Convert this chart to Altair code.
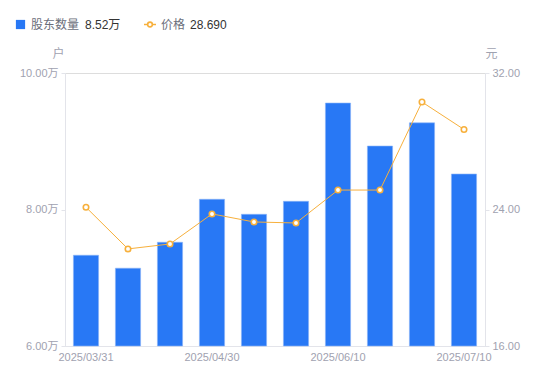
import altair as alt
import pandas as pd

dates = ["2025/03/31", "2025/04/10", "2025/04/18", "2025/04/30", "2025/05/20",
         "2025/05/30", "2025/06/10", "2025/06/20", "2025/06/30", "2025/07/10"]
holders = [7.33, 7.14, 7.52, 8.15, 7.93, 8.12, 9.56, 8.93, 9.27, 8.52]
price = [24.13, 21.69, 21.98, 23.74, 23.27, 23.21, 25.14, 25.14, 30.30, 28.69]
shown_dates = [dates[0], dates[3], dates[6], dates[9]]
left_ticks = [6, 8, 10]
right_ticks = [16, 24, 32]

FONT = "Liberation Sans, Noto Sans CJK SC, sans-serif"
BLUE = "#2878F5"
ORANGE = "#F7B03C"
GREY = "#9fa2b0"
AXIS_LINE = "#e3e4ea"

df = pd.DataFrame({"date": dates, "holders": holders, "price": price})
base = alt.Chart(df)

x = alt.X("date:N", sort=None,
          scale=alt.Scale(paddingInner=0.4, paddingOuter=0.2),
          axis=alt.Axis(values=shown_dates, labelAngle=0, title=None, ticks=False,
                        domainColor=AXIS_LINE, labelColor=GREY, labelFontSize=11,
                        labelFont=FONT, labelPadding=5, labelOverlap=False))

bars = base.mark_bar(color=BLUE, stroke="#8db5f7", strokeWidth=0.6).encode(
    x=x,
    y=alt.Y("holders:Q",
            scale=alt.Scale(domain=[6, 10], nice=False, zero=False),
            axis=alt.Axis(values=left_ticks, labelExpr="format(datum.value, '.2f') + '万'",
                          title="户", titleAngle=0, titleX=-7, titleY=-13, titleAlign="center",
                          titleColor=GREY, titleFontSize=12, titleFontWeight="normal", titleFont=FONT,
                          domainColor=AXIS_LINE, tickColor=AXIS_LINE, tickSize=4,
                          labelColor=GREY, labelFontSize=11, labelFont=FONT, labelPadding=3,
                          grid=False)),
    y2=alt.datum(6),
)

yp = alt.Y("price:Q",
           scale=alt.Scale(domain=[16, 32], nice=False, zero=False),
           axis=alt.Axis(orient="right", values=right_ticks, format=".2f",
                         title="元", titleAngle=0, titleX=6, titleY=-13, titleAlign="center",
                         titleColor=GREY, titleFontSize=12, titleFontWeight="normal", titleFont=FONT,
                         domainColor=AXIS_LINE, tickColor=AXIS_LINE, tickSize=4,
                         labelColor=GREY, labelFontSize=11, labelFont=FONT, labelPadding=3,
                         grid=False))

line = base.mark_line(color=ORANGE, strokeWidth=1).encode(x=x, y=yp)
pts = base.mark_point(filled=True, fill="white", stroke=ORANGE, strokeWidth=1.6,
                      size=30, opacity=1).encode(x=x, y=yp)

price_layer = alt.layer(line, pts)

# Legend
leg_df = pd.DataFrame({"k": [0]})
leg = alt.Chart(leg_df)
sq = leg.mark_square(color=BLUE, size=85, opacity=1).encode(x=alt.value(-44.5), y=alt.value(-48.5))
t1 = leg.mark_text(align="left", baseline="middle", font=FONT, fontSize=12, color="#6b6e7a").encode(
    x=alt.value(-34), y=alt.value(-48.5), text=alt.value("股东数量"))
t2 = leg.mark_text(align="left", baseline="middle", font=FONT, fontSize=12, color="#333333").encode(
    x=alt.value(20), y=alt.value(-48.5), text=alt.value(f"{holders[-1]:.2f}万"))
r = leg.mark_rule(color=ORANGE, strokeWidth=1.5).encode(
    x=alt.value(79), x2=alt.value(91), y=alt.value(-48.5))
cp = leg.mark_point(filled=True, fill="white", stroke=ORANGE, strokeWidth=1.6, size=22, opacity=1).encode(
    x=alt.value(85), y=alt.value(-48.5))
t3 = leg.mark_text(align="left", baseline="middle", font=FONT, fontSize=12, color="#6b6e7a").encode(
    x=alt.value(96), y=alt.value(-48.5), text=alt.value("价格"))
t4 = leg.mark_text(align="left", baseline="middle", font=FONT, fontSize=12, color="#333333").encode(
    x=alt.value(125), y=alt.value(-48.5), text=alt.value(f"{price[-1]:.3f}"))

legend = alt.layer(sq, t1, t2, r, cp, t3, t4)

chart = alt.layer(bars, price_layer, legend).resolve_scale(y="independent").properties(
    width=420, height=273,
    autosize=alt.AutoSizeParams(type="none"),
    padding={"left": 57, "top": 65, "right": 57, "bottom": 27},
).configure_view(stroke=None).configure(background="white")

chart.save("out.html", embed_options={"renderer": "svg", "actions": False})
